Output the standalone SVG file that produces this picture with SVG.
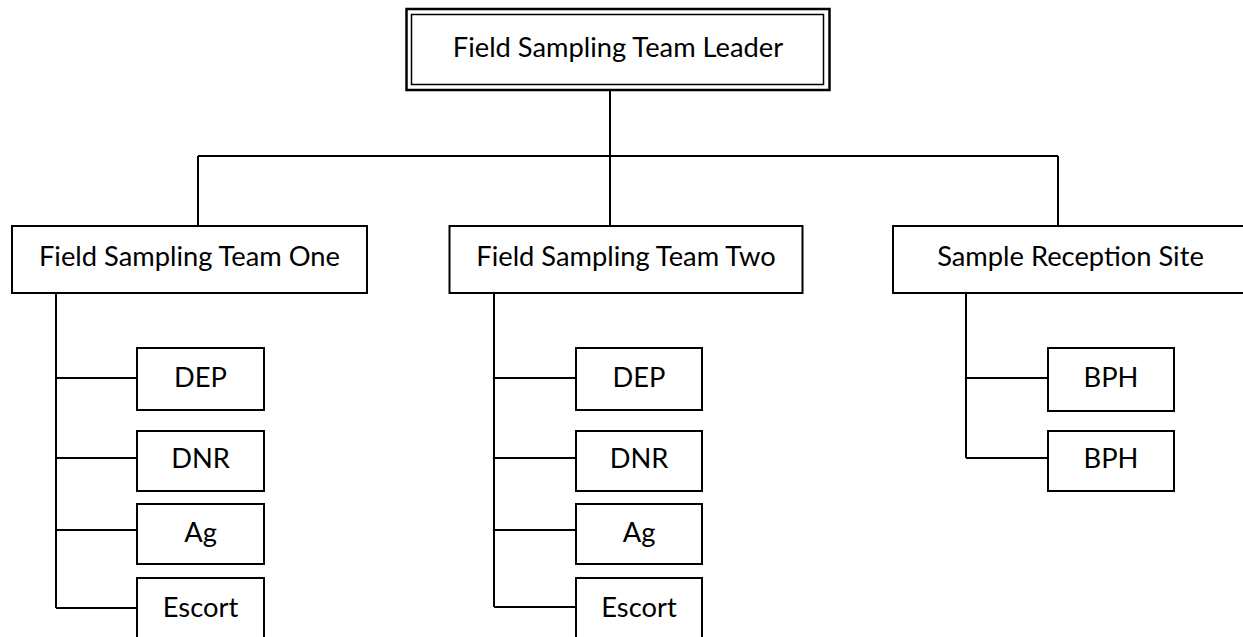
<svg xmlns="http://www.w3.org/2000/svg" width="1243" height="637" viewBox="0 0 1243 637">
<style>
.box{fill:#fff;stroke:#000;stroke-width:2}
.t{font-family:Lato,"Liberation Sans",sans-serif;font-size:27.3px;fill:#000;text-anchor:middle}
.c{fill:none;stroke:#000;stroke-width:2}
</style>
<rect width="1243" height="637" fill="#fff"/>
<g id="connectors">
<path class="c" d="M610 91V156M198 156H1058M198 156V226M610 156V226M1058 156V226"/>
<path class="c" d="M56 293V608M56 378H137M56 458H137M56 530H137M56 608H137"/>
<path class="c" d="M494 293V607M494 378H576M494 458H576M494 530H576M494 607H576"/>
<path class="c" d="M966 292V458M966 378H1048M966 458H1048"/>
</g>
<g id="leader">
<rect x="406.5" y="9" width="423" height="81" fill="#fff" stroke="#000" stroke-width="2.5"/>
<rect x="411.5" y="14.5" width="412" height="70" fill="none" stroke="#000" stroke-width="1.5"/>
<text class="t" x="618" y="57">Field Sampling Team Leader</text>
</g>
<g id="team1"><rect class="box" x="12" y="226" width="355" height="67"/><text class="t" x="189.5" y="266">Field Sampling Team One</text></g>
<g id="team2"><rect class="box" x="449.5" y="226" width="353" height="67"/><text class="t" x="626" y="266">Field Sampling Team Two</text></g>
<g id="srs"><rect class="box" x="893" y="226" width="355" height="67"/><text class="t" x="1070.5" y="266">Sample Reception Site</text></g>
<g id="t1-dep"><rect class="box" x="137" y="348" width="127" height="62"/><text class="t" x="200.5" y="387">DEP</text></g>
<g id="t1-dnr"><rect class="box" x="137" y="431" width="127" height="60"/><text class="t" x="200.5" y="468">DNR</text></g>
<g id="t1-ag"><rect class="box" x="137" y="504" width="127" height="60"/><text class="t" x="200.5" y="541.5">Ag</text></g>
<g id="t1-escort"><rect class="box" x="137" y="578" width="127" height="70"/><text class="t" x="200.5" y="617">Escort</text></g>
<g id="t2-dep"><rect class="box" x="576" y="348" width="126" height="62"/><text class="t" x="639" y="387">DEP</text></g>
<g id="t2-dnr"><rect class="box" x="576" y="431" width="126" height="60"/><text class="t" x="639" y="468">DNR</text></g>
<g id="t2-ag"><rect class="box" x="576" y="504" width="126" height="60"/><text class="t" x="639" y="541.5">Ag</text></g>
<g id="t2-escort"><rect class="box" x="576" y="578" width="126" height="70"/><text class="t" x="639" y="617">Escort</text></g>
<g id="srs-bph1"><rect class="box" x="1048" y="348" width="126" height="63"/><text class="t" x="1111" y="387">BPH</text></g>
<g id="srs-bph2"><rect class="box" x="1048" y="431" width="126" height="60"/><text class="t" x="1111" y="468">BPH</text></g>
</svg>
